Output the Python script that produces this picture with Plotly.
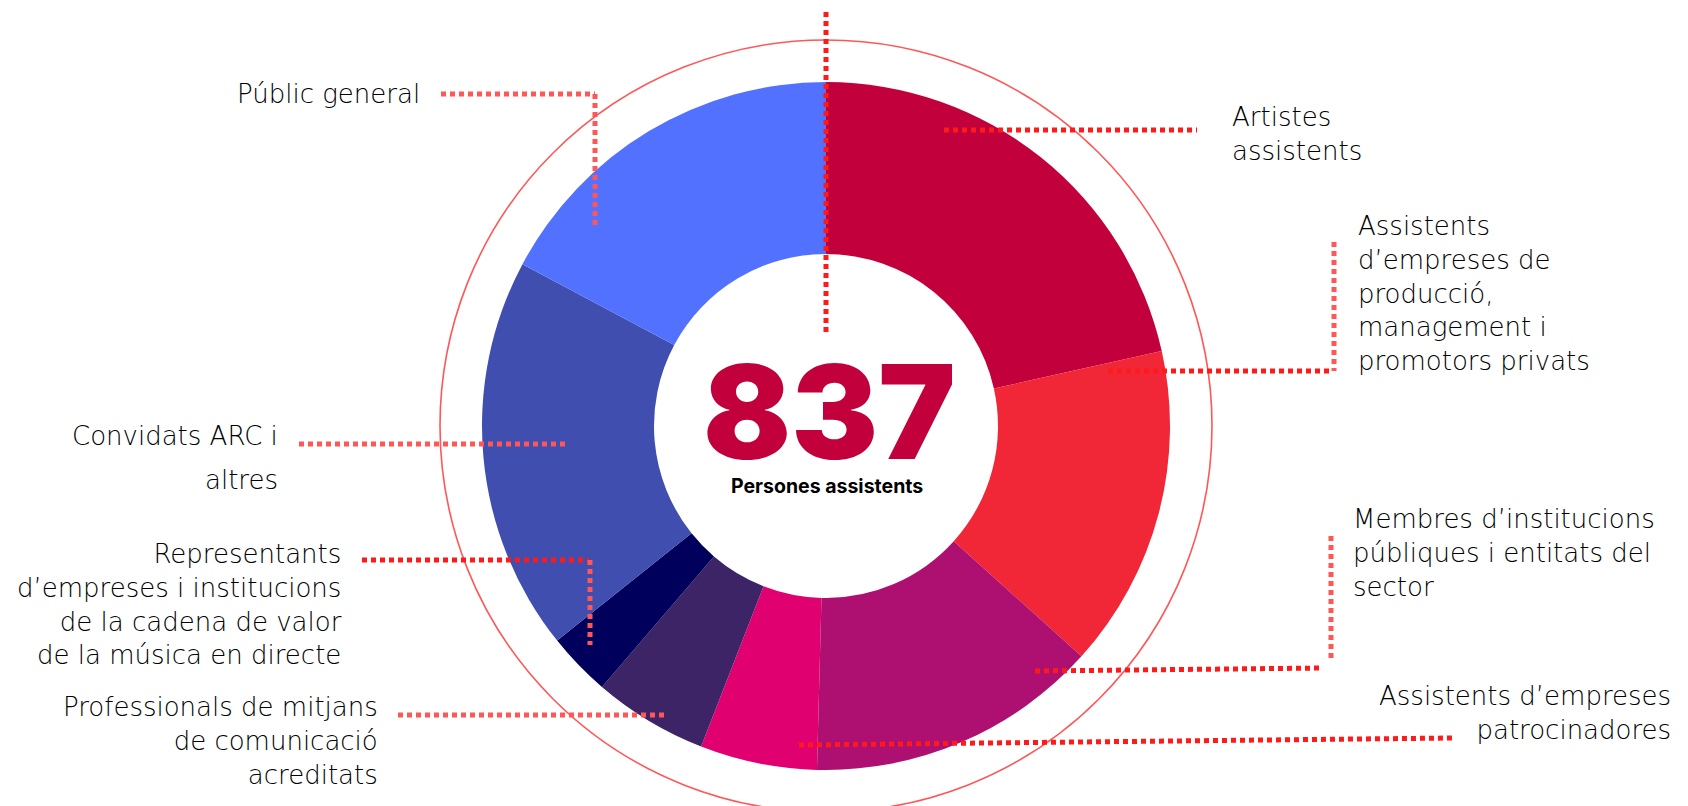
import plotly.graph_objects as go

# ---------------- data ----------------
categories = [
    "Artistes assistents",
    "Assistents d’empreses de producció, management i promotors privats",
    "Membres d’institucions públiques i entitats del sector",
    "Assistents d’empreses patrocinadores",
    "Professionals de mitjans de comunicació acreditats",
    "Representants d’empreses i institucions de la cadena de valor de la música en directe",
    "Convidats ARC i altres",
    "Públic general",
]
values = [180, 127, 115, 46, 45, 25, 155, 144]
colors = ["#C1003C", "#F12636", "#AD1070", "#E1006F", "#3C2467", "#00005C", "#3F4EAF", "#5271FF"]

label_lines = [
    ["Artistes", "assistents"],
    ["Assistents", "d’empreses de", "producció,", "management i", "promotors privats"],
    ["Membres d’institucions", "públiques i entitats del", "sector"],
    ["Assistents d’empreses", "patrocinadores"],
    ["Professionals de mitjans", "de comunicació", "acreditats"],
    ["Representants", "d’empreses i institucions", "de la cadena de valor", "de la música en directe"],
    ["Convidats ARC i", "altres"],
    ["Públic general"],
]
center_caption = "Persones assistents"

# ---------------- layout geometry (pixels) ----------------
W, H = 1688, 806
CX, CY, R = 826, 426, 344
RING_R = 386
RED, LIGHT = "#FF1A1A", "#FF5757"
LABEL_SIZE = 26
LINE_GAP = 1.3 * LABEL_SIZE   # plotly's multi-line spacing

def px(x):
    return x / W

def py(y):
    return 1 - y / H

# label anchor: (x, anchor, first-line centre y, separate-line gap or None)
label_pos = [
    (1230, "left", 117, None),
    (1356, "left", 226, None),
    (1351, "left", 519, None),
    (1673, "right", 696, None),
    (380, "right", 707, None),
    (344, "right", 554, None),
    (280, "right", 436, 44),
    (422, "right", 94, None),
]

# leader lines: (x0, y0, x1, y1, color)
leaders = [
    (826, 12, 826, 335, RED),
    (944, 130, 1197, 130, RED),
    (1108, 371, 1332, 371, RED), (1334, 242, 1334, 371, LIGHT),
    (1035, 671, 1323, 668, RED), (1331, 536, 1331, 661, LIGHT),
    (799, 745, 1452, 738, RED),
    (398, 715, 667, 715, LIGHT),
    (362, 560, 589, 560, RED), (590, 560, 590, 645, LIGHT),
    (299, 444, 568, 444, LIGHT),
    (441, 94, 595, 94, LIGHT), (595, 94, 595, 227, LIGHT),
]

fig = go.Figure()
fig.add_trace(go.Pie(
    labels=categories,
    values=values,
    sort=False,
    direction="clockwise",
    rotation=0,
    hole=0.5,
    marker=dict(colors=colors, line=dict(width=0)),
    textinfo="none",
    hoverinfo="label+value",
    showlegend=False,
    domain=dict(x=[px(CX - R), px(CX + R)], y=[py(CY + R), py(CY - R)]),
))

shapes = [dict(
    type="circle", xref="paper", yref="paper",
    x0=px(CX - RING_R), x1=px(CX + RING_R),
    y0=py(CY + RING_R), y1=py(CY - RING_R),
    line=dict(color=LIGHT, width=1.6),
)]
for x0, y0, x1, y1, c in leaders:
    shapes.append(dict(
        type="line", xref="paper", yref="paper",
        x0=px(x0), y0=py(y0), x1=px(x1), y1=py(y1),
        line=dict(color=c, width=5, dash="5px,4px"),
    ))

annotations = []
LFONT = dict(family="'DejaVu Sans', sans-serif", size=LABEL_SIZE, color="#000000", weight=300)
for lines, (x, anchor, y0, gap) in zip(label_lines, label_pos):
    if gap is None:
        yc = y0 + (len(lines) - 1) * LINE_GAP / 2
        annotations.append(dict(
            x=px(x), y=py(yc), xref="paper", yref="paper",
            text="<br>".join(lines), showarrow=False,
            xanchor=anchor, yanchor="middle", align=anchor, font=LFONT,
        ))
    else:
        for i, t in enumerate(lines):
            annotations.append(dict(
                x=px(x), y=py(y0 + i * gap), xref="paper", yref="paper",
                text=t, showarrow=False, xanchor=anchor, yanchor="middle",
                align=anchor, font=LFONT,
            ))

annotations.append(dict(
    x=px(829), y=py(411), xref="paper", yref="paper",
    text=str(sum(values)), showarrow=False, xanchor="center", yanchor="middle",
    font=dict(family="Inter, Lato, sans-serif", size=130, color="#C1003C", weight=900),
))
annotations.append(dict(
    x=px(827), y=py(486), xref="paper", yref="paper",
    text=center_caption, showarrow=False, xanchor="center", yanchor="middle",
    font=dict(family="Inter, Lato, sans-serif", size=19.5, color="#000000", weight=700),
))

fig.update_layout(
    width=W, height=H,
    margin=dict(l=0, r=0, t=0, b=0),
    paper_bgcolor="white", plot_bgcolor="white",
    shapes=shapes, annotations=annotations,
    showlegend=False,
)

fig.write_html(
    "out.html",
    config={"displayModeBar": False},
    post_script="document.body.style.margin='0';document.body.style.overflow='hidden';",
)
